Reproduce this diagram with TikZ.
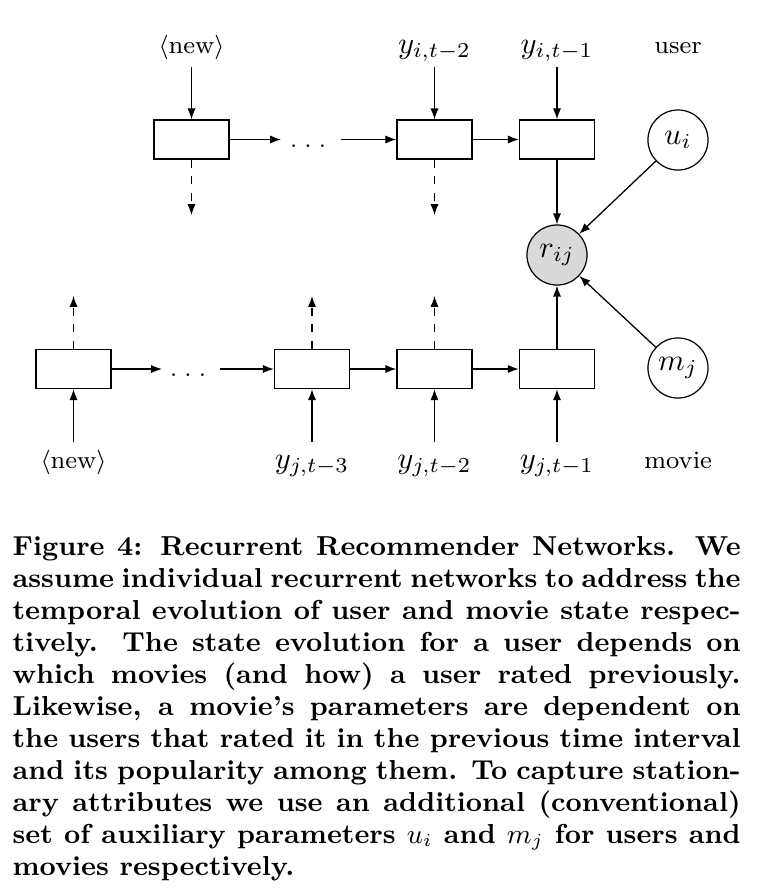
\documentclass[tikz,border=0pt]{standalone}
\usetikzlibrary{arrows.meta}
\begin{document}
\begin{tikzpicture}[x=0.328pt,y=-0.328pt,
  every node/.style={font=\fontsize{8.2}{10}\selectfont},
  mathfont/.style={font=\fontsize{10.4}{12}\selectfont},
  cell/.style={draw, line width=0.45pt, minimum width=24.6pt, minimum height=12.8pt, inner sep=0pt},
  var/.style={draw, circle, line width=0.4pt, minimum size=19.7pt, inner sep=0pt, mathfont},
  obs/.style={var, fill=black!15},
  lbl/.style={anchor=base, inner sep=0pt, text height=8.2pt, text depth=4.3pt},
  mlbl/.style={lbl, mathfont},
  arr/.style={-{Latex[length=3.6pt,width=2.7pt]}, line width=0.42pt},
  darr/.style={arr, dash pattern=on 2.7pt off 2.7pt},
  dotsnode/.style={inner sep=0pt}
]
\useasboundingbox (0,0) rectangle (762,892);

% top (user) chain
\node[cell] (t1) at (191.5,139.5) {};
\node[cell] (t2) at (434.5,139.5) {};
\node[cell] (t3) at (557,139.5) {};
\coordinate (ta) at (281,139.5);
\coordinate (tb) at (341,139.5);
\node[dotsnode] (tdots) at (308,146) {$.\;.\;.$};

% bottom (movie) chain
\node[cell] (b1) at (73.5,369) {};
\node[cell] (b2) at (312,369) {};
\node[cell] (b3) at (434.5,369) {};
\node[cell] (b4) at (557,369) {};
\coordinate (ba) at (162,369);
\coordinate (bb) at (220,369);
\node[dotsnode] (bdots) at (188,375) {$.\;.\;.$};

% variables
\node[obs] (r) at (557,255) {$r_{ij}$};
\node[var] (u) at (678,140) {$u_i$};
\node[var] (m) at (678,368) {$m_j$};

% labels
\node[lbl] (lt1) at (191.5,53) {$\langle$new$\rangle$};
\node[mlbl] (lt2) at (434.5,53) {$y_{i,t-2}$};
\node[mlbl] (lt3) at (557,53) {$y_{i,t-1}$};
\node[lbl] (luser) at (678,53) {user};
\node[lbl] (lb1) at (73.5,468) {$\langle$new$\rangle$};
\node[mlbl] (lb2) at (312,468) {$y_{j,t-3}$};
\node[mlbl] (lb3) at (434.5,468) {$y_{j,t-2}$};
\node[mlbl] (lb4) at (557,468) {$y_{j,t-1}$};
\node[lbl] (lmovie) at (678,468) {movie};

% dashed outputs
\coordinate (t1d) at (191.5,215);
\coordinate (t2d) at (434.5,215);
\coordinate (b1d) at (73.5,296);
\coordinate (b2d) at (312,296);
\coordinate (b3d) at (434.5,296);

% connectors top
\draw[arr] (lt1) -- (t1);
\draw[arr] (lt2) -- (t2);
\draw[arr] (lt3) -- (t3);
\draw[arr] (t1) -- (ta);
\draw[arr] (tb) -- (t2);
\draw[arr] (t2) -- (t3);
\draw[darr] (t1) -- (t1d);
\draw[darr] (t2) -- (t2d);
\draw[arr] (t3) -- (r);

% connectors bottom
\draw[arr] (lb1) -- (b1);
\draw[arr] (lb2) -- (b2);
\draw[arr] (lb3) -- (b3);
\draw[arr] (lb4) -- (b4);
\draw[arr] (b1) -- (ba);
\draw[arr] (bb) -- (b2);
\draw[arr] (b2) -- (b3);
\draw[arr] (b3) -- (b4);
\draw[darr] (b1) -- (b1d);
\draw[darr] (b2) -- (b2d);
\draw[darr] (b3) -- (b3d);
\draw[arr] (b4) -- (r);

% parameters
\draw[arr] (u) -- (r);
\draw[arr] (m) -- (r);

% caption
\node[anchor=north west, inner sep=0pt, text width=238.8pt, align=justify,
      font=\bfseries\fontsize{9}{10.5}\selectfont] (cap) at (12,536)
{Figure 4: Recurrent Recommender Networks.  We\linebreak
assume individual recurrent networks to address the\linebreak
temporal evolution of user and movie state respec-\linebreak
tively.  The state evolution for a user depends on\linebreak
which movies (and how) a user rated previously.\linebreak
Likewise, a movie’s parameters are dependent on\linebreak
the users that rated it in the previous time interval\linebreak
and its popularity among them. To capture station-\linebreak
ary attributes we use an additional (conventional)\linebreak
set of auxiliary parameters $u_i$ and $m_j$ for users and\linebreak
movies respectively.};
\end{tikzpicture}
\end{document}
